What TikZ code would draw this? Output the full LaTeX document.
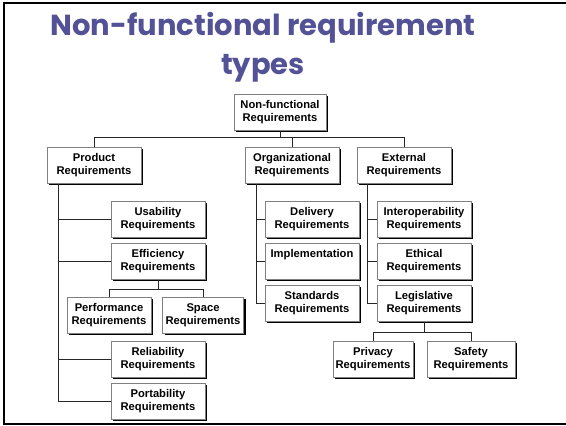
\documentclass[tikz,border=0pt]{standalone}
\usepackage{fontspec}
\setmainfont{Liberation Sans}
\newfontfamily\titlefont{Poppins}
\usetikzlibrary{calc,shadows}
\definecolor{titleblue}{RGB}{84,82,150}
\tikzset{
  req/.style={draw=gray,line width=1pt,fill=white,align=center,inner sep=1pt,
    font=\fontsize{11.2}{13.5}\selectfont\bfseries,minimum width=94pt,minimum height=36pt,
    drop shadow={shadow xshift=2pt,shadow yshift=-2pt,fill=black,opacity=1}},
  link/.style={line width=0.9pt,black!85},
  headline/.style={anchor=base,text=titleblue,font=\titlefont\fontsize{29}{36}\selectfont\bfseries}
}

\begin{document}
\begin{tikzpicture}[x=1pt,y=-1pt]
    \useasboundingbox (0,0) rectangle (566,426);
    \draw[line width=2pt] (566,3) -- (4,3) -- (4,424) -- (566,424);
    \node[headline] (title1) at (263,35) {Non-functional requirement};
    \node[headline] (title2) at (263,74) {types};
    % top level
    \node[req,minimum width=92pt] (root) at (280,112) {Non-functional\\Requirements};
    \node[req] (prod) at (94,165) {Product\\Requirements};
    \node[req] (org) at (292,165) {Organizational\\Requirements};
    \node[req] (ext) at (404,165) {External\\Requirements};
    % product branch
    \node[req] (use) at (158,219) {Usability\\Requirements};
    \node[req] (eff) at (158,261) {Efficiency\\Requirements};
    \node[req,minimum width=84pt] (perf) at (109,315) {Performance\\Requirements};
    \node[req,minimum width=81pt] (space) at (203,315) {Space\\Requirements};
    \node[req] (rel) at (158,359) {Reliability\\Requirements};
    \node[req] (port) at (158,401) {Portability\\Requirements};
    % organizational branch
    \node[req] (del) at (312,219) {Delivery\\Requirements};
    \node[req] (impl) at (312,261) {Implementation\\\phantom{Requirements}};
    \node[req] (std) at (312,303) {Standards\\Requirements};
    % external branch
    \node[req] (inter) at (424,219) {Interoperability\\Requirements};
    \node[req] (eth) at (424,261) {Ethical\\Requirements};
    \node[req] (leg) at (424,303) {Legislative\\Requirements};
    \node[req,minimum width=80pt] (priv) at (373,359) {Privacy\\Requirements};
    \node[req,minimum width=88pt] (safe) at (471,359) {Safety\\Requirements};
    % connectors
    \coordinate (bus) at (0,137);
    \draw[link] (root.south) -- (root.south |- bus);
    \draw[link] (prod.north) |- (ext.north |- bus) -- (ext.north);
    \draw[link] (org.north) -- (org.north |- bus);
    \coordinate (pt) at ($(prod.south west)+(12,0)$);
    \coordinate (ot) at ($(org.south west)+(12,0)$);
    \coordinate (et) at ($(ext.south west)+(11,0)$);
    \draw[link] (pt) |- (port.west);
    \foreach \n in {use,eff,rel} \draw[link] (pt |- \n.west) -- (\n.west);
    \draw[link] (ot) |- (std.west);
    \foreach \n in {del,impl} \draw[link] (ot |- \n.west) -- (\n.west);
    \draw[link] (et) |- (leg.west);
    \foreach \n in {inter,eth} \draw[link] (et |- \n.west) -- (\n.west);
    \draw[link] (eff.south) -- ++(0,10) coordinate (ebar) -| (perf.north);
    \draw[link] (ebar) -| (space.north);
    \draw[link] (leg.south) -- ++(0,11) coordinate (lbar) -| (priv.north);
    \draw[link] (lbar) -| (safe.north);
\end{tikzpicture}
\end{document}
